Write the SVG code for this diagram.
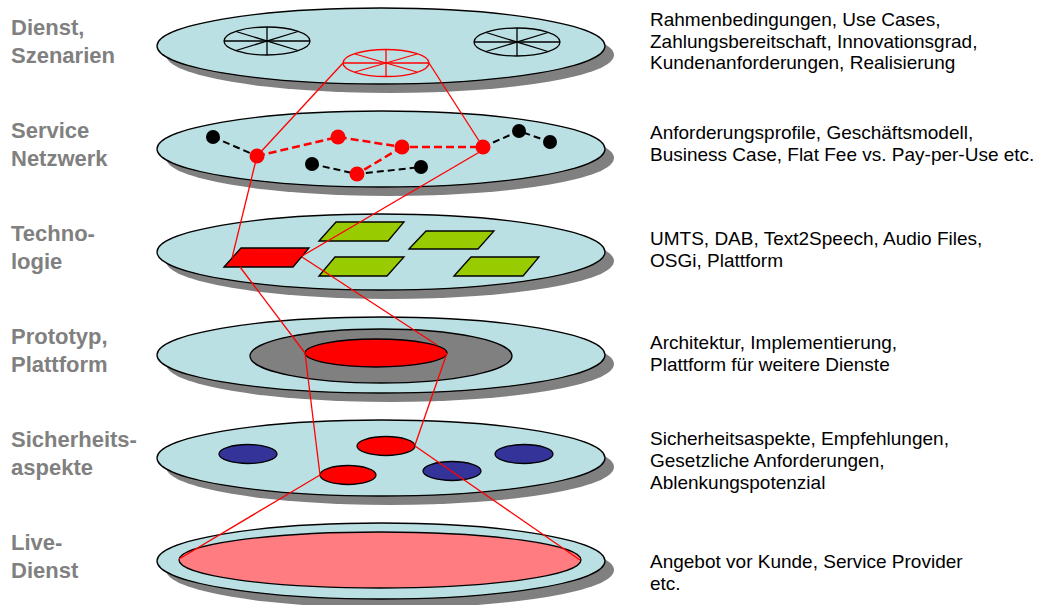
<svg xmlns="http://www.w3.org/2000/svg" width="1037" height="605" viewBox="0 0 1037 605">
<style>
.shadow{fill:#808080}
.disk{fill:#BBE0E3;stroke:#000;stroke-width:1.3}
.lbl{font-family:"Liberation Sans",Arial,sans-serif;font-weight:bold;font-size:22px;fill:#808080}
.desc{font-family:"Liberation Sans",Arial,sans-serif;font-size:19px;fill:#000}
.wheel{fill:none;stroke-width:1.3}
.bk{stroke:#000}
.rd{stroke:#FF0000}
.bdash{stroke:#000;stroke-width:2;stroke-dasharray:7,4;fill:none}
.rdash{stroke:#FF0000;stroke-width:2.5;stroke-dasharray:8,4;fill:none}
.bnode{fill:#000}
.rnode{fill:#FF0000}
.green{fill:#99CC00;stroke:#000;stroke-width:1.3}
.redf{fill:#FF0000;stroke:#000;stroke-width:1.3}
.blue{fill:#333399;stroke:#000;stroke-width:1.3}
.conn{stroke:#FF0000;stroke-width:1.3;fill:none}
</style>
<rect width="1037" height="605" fill="#FFFFFF"/>

<g id="layer-dienst">
<ellipse class="shadow" cx="390" cy="55" rx="224" ry="38"/>
<ellipse class="disk" cx="381" cy="46" rx="224" ry="38"/>
<g class="wheel bk">
<ellipse cx="267" cy="41" rx="43" ry="14"/>
<line x1="224" y1="41" x2="310" y2="41"/><line x1="267" y1="27" x2="267" y2="55"/>
<line x1="236" y1="31.5" x2="298" y2="50.5"/><line x1="236" y1="50.5" x2="298" y2="31.5"/>
</g>
<g class="wheel bk">
<ellipse cx="517" cy="42" rx="43" ry="14"/>
<line x1="474" y1="42" x2="560" y2="42"/><line x1="517" y1="28" x2="517" y2="56"/>
<line x1="486" y1="32.5" x2="548" y2="51.5"/><line x1="486" y1="51.5" x2="548" y2="32.5"/>
</g>
<g class="wheel rd">
<ellipse cx="386" cy="63" rx="43" ry="13.5"/>
<line x1="343" y1="63" x2="429" y2="63"/><line x1="386" y1="49.5" x2="386" y2="76.5"/>
<line x1="355" y1="54" x2="417" y2="72"/><line x1="355" y1="72" x2="417" y2="54"/>
</g>
</g>

<g id="layer-netzwerk">
<ellipse class="shadow" cx="390" cy="158" rx="224" ry="38"/>
<ellipse class="disk" cx="381" cy="149" rx="224" ry="38"/>
<polyline class="bdash" points="213,137 257,156"/>
<polyline class="bdash" points="312,164 357,174 421,167"/>
<polyline class="bdash" points="483,147 519,131 550,142"/>
<polyline class="rdash" points="257,156 338,137 402,147 483,147"/>
<polyline class="rdash" points="402,147 357,174"/>
<circle class="bnode" cx="213" cy="137" r="7"/>
<circle class="bnode" cx="519" cy="131" r="7"/>
<circle class="bnode" cx="550" cy="142" r="7"/>
<circle class="bnode" cx="312" cy="164" r="7"/>
<circle class="bnode" cx="421" cy="167" r="7"/>
<circle class="rnode" cx="257" cy="156" r="7.5"/>
<circle class="rnode" cx="338" cy="137" r="7.5"/>
<circle class="rnode" cx="402" cy="147" r="7.5"/>
<circle class="rnode" cx="483" cy="147" r="7.5"/>
<circle class="rnode" cx="357" cy="174" r="7.5"/>
</g>

<g id="layer-technologie">
<ellipse class="shadow" cx="390" cy="261" rx="224" ry="38"/>
<ellipse class="disk" cx="381" cy="252" rx="224" ry="38"/>
<polygon class="green" points="319,241 336,222 404,222 388,241"/>
<polygon class="green" points="409,249 426,231 494,231 478,249"/>
<polygon class="green" points="319,276 335,257 404,257 387,276"/>
<polygon class="green" points="454,276 471,257 539,257 523,276"/>
<polygon class="redf" points="224,267 241,248 309,248 293,267"/>
</g>

<g id="layer-prototyp">
<ellipse class="shadow" cx="390" cy="364" rx="224" ry="38"/>
<ellipse class="disk" cx="381" cy="355" rx="224" ry="38"/>
<ellipse cx="381" cy="356" rx="131" ry="27" fill="#808080" stroke="#000" stroke-width="1.3"/>
<ellipse class="redf" cx="376" cy="353" rx="71" ry="14"/>
</g>

<g id="layer-sicherheit">
<ellipse class="shadow" cx="390" cy="467" rx="224" ry="38"/>
<ellipse class="disk" cx="381" cy="458" rx="224" ry="38"/>
<ellipse class="blue" cx="248" cy="454" rx="29" ry="9.5"/>
<ellipse class="blue" cx="524" cy="454" rx="29" ry="9.5"/>
<ellipse class="blue" cx="452" cy="471" rx="29" ry="9.5"/>
<ellipse class="redf" cx="386" cy="446" rx="29" ry="9.5"/>
<ellipse class="redf" cx="348" cy="475" rx="28" ry="9.5"/>
</g>

<g id="layer-live">
<ellipse class="shadow" cx="390" cy="570" rx="224" ry="38"/>
<ellipse class="disk" cx="381" cy="561" rx="224" ry="38"/>
<ellipse cx="380" cy="560" rx="201" ry="28" fill="#FF7C80" stroke="#000" stroke-width="1.3"/>
</g>

<g id="connectors">
<line class="conn" x1="343" y1="63" x2="257" y2="156"/>
<line class="conn" x1="429" y1="63" x2="483" y2="147"/>
<line class="conn" x1="257" y1="156" x2="232" y2="258"/>
<line class="conn" x1="483" y1="150" x2="302" y2="256"/>
<line class="conn" x1="240" y1="267" x2="305" y2="353"/>
<line class="conn" x1="302" y1="257" x2="437" y2="345"/>
<line class="conn" x1="305" y1="353" x2="320" y2="475"/>
<line class="conn" x1="447" y1="353" x2="415" y2="445"/>
<line class="conn" x1="320" y1="475" x2="179" y2="559"/>
<line class="conn" x1="415" y1="446" x2="580" y2="560"/>
</g>

<g id="labels">
<text class="lbl" x="11" y="35">Dienst,</text>
<text class="lbl" x="11" y="62.5">Szenarien</text>
<text class="lbl" x="11" y="138">Service</text>
<text class="lbl" x="11" y="165.5">Netzwerk</text>
<text class="lbl" x="11" y="241">Techno-</text>
<text class="lbl" x="11" y="268.5">logie</text>
<text class="lbl" x="11" y="344">Prototyp,</text>
<text class="lbl" x="11" y="371.5">Plattform</text>
<text class="lbl" x="11" y="447">Sicherheits-</text>
<text class="lbl" x="11" y="474.5">aspekte</text>
<text class="lbl" x="11" y="550">Live-</text>
<text class="lbl" x="11" y="577.5">Dienst</text>
</g>

<g id="descriptions">
<text class="desc" x="650" y="26">Rahmenbedingungen, Use Cases,</text>
<text class="desc" x="650" y="47.5">Zahlungsbereitschaft, Innovationsgrad,</text>
<text class="desc" x="650" y="69">Kundenanforderungen, Realisierung</text>
<text class="desc" x="650" y="139">Anforderungsprofile, Geschäftsmodell,</text>
<text class="desc" x="650" y="161">Business Case, Flat Fee vs. Pay-per-Use etc.</text>
<text class="desc" x="650" y="245">UMTS, DAB, Text2Speech, Audio Files,</text>
<text class="desc" x="650" y="267">OSGi, Plattform</text>
<text class="desc" x="650" y="349">Architektur, Implementierung,</text>
<text class="desc" x="650" y="371">Plattform für weitere Dienste</text>
<text class="desc" x="650" y="445">Sicherheitsaspekte, Empfehlungen,</text>
<text class="desc" x="650" y="467">Gesetzliche Anforderungen,</text>
<text class="desc" x="650" y="488.5">Ablenkungspotenzial</text>
<text class="desc" x="650" y="568">Angebot vor Kunde, Service Provider</text>
<text class="desc" x="650" y="589.5">etc.</text>
</g>
</svg>
